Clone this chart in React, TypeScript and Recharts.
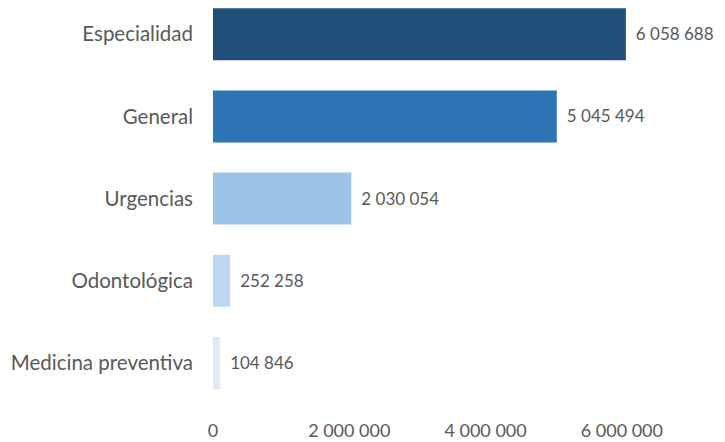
import { BarChart, Bar, XAxis, YAxis, Cell, LabelList } from 'recharts';

const categories = [
  'Especialidad',
  'General',
  'Urgencias',
  'Odontológica',
  'Medicina preventiva',
];
const consultas = [6058688, 5045494, 2030054, 252258, 104846];
const barColors = ['#1F4E79', '#2E75B6', '#9DC3E6', '#BDD7EE', '#DEEBF7'];
const xTicks = [0, 2000000, 4000000, 6000000];

const data = categories.map((name, i) => ({ name, value: consultas[i] }));

const fmt = (v: number) => String(v).replace(/\B(?=(\d{3})+(?!\d))/g, ' ');

const FONT = 'Lato, "Open Sans", sans-serif';

const App = () => {
  return (
    <div style={{ marginTop: -15, marginLeft: -8, fontFamily: FONT }}>
      <BarChart
        width={725}
        height={464}
        data={data}
        layout="vertical"
        margin={{ top: 0, right: 35, bottom: 0, left: 0 }}
        barCategoryGap="18.5%"
      >
        <XAxis
          type="number"
          domain={[0, 7000000]}
          ticks={xTicks}
          tickFormatter={fmt}
          axisLine={false}
          tickLine={false}
          tickMargin={14}
          height={53}
          tick={{ fill: '#595959', fontSize: 18, fontFamily: FONT }}
        />
        <YAxis
          type="category"
          dataKey="name"
          width={213}
          axisLine={false}
          tickLine={false}
          tickMargin={14}
          tick={{ fill: '#595959', fontSize: 20.5, fontFamily: FONT }}
        />
        <Bar dataKey="value" isAnimationActive={false}>
          {data.map((d, i) => (
            <Cell key={d.name} fill={barColors[i]} />
          ))}
          <LabelList
            dataKey="value"
            position="right"
            offset={10}
            formatter={(v: any) => fmt(Number(v))}
            style={{ fill: '#595959', fontSize: 17, fontFamily: FONT }}
          />
        </Bar>
      </BarChart>
    </div>
  );
};

export default App;
